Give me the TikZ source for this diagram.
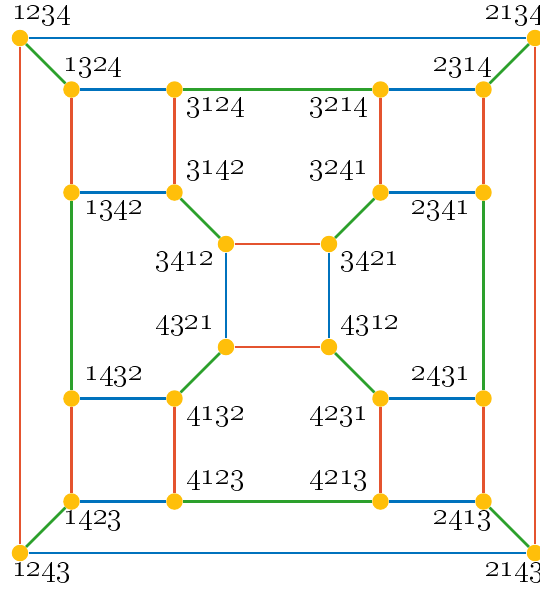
\documentclass[tikz,border=0pt]{standalone}
\usepackage{tikz}
\usetikzlibrary{calc}
\definecolor{edgeb}{HTML}{0072BD}
\definecolor{edger}{HTML}{E4532F}
\definecolor{edgeg}{HTML}{2CA02C}
\definecolor{dotc}{HTML}{FFBF0A}
\tikzset{
  perm/.style={circle, fill=dotc, inner sep=0pt, minimum size=0.32cm},
  lab/.style={font=\fontsize{16}{18}\selectfont, inner sep=0pt},
  eb/.style={edgeb, line width=1.5pt},
  er/.style={edger, line width=1.5pt},
  eg/.style={edgeg, line width=1.5pt}
}

\begin{document}
\begin{tikzpicture}
  \useasboundingbox (-0.388,0.738) rectangle (10.097,-10.718);
  % vertices
  \node[perm] (p1234) at (0,0) {};
  \node[perm] (p2134) at (10,0) {};
  \node[perm] (p1243) at (0,-10) {};
  \node[perm] (p2143) at (10,-10) {};
  \node[perm] (p1324) at (1,-1) {};
  \node[perm] (p3124) at (3,-1) {};
  \node[perm] (p3214) at (7,-1) {};
  \node[perm] (p2314) at (9,-1) {};
  \node[perm] (p1342) at (1,-3) {};
  \node[perm] (p3142) at (3,-3) {};
  \node[perm] (p3241) at (7,-3) {};
  \node[perm] (p2341) at (9,-3) {};
  \node[perm] (p3412) at (4,-4) {};
  \node[perm] (p3421) at (6,-4) {};
  \node[perm] (p4321) at (4,-6) {};
  \node[perm] (p4312) at (6,-6) {};
  \node[perm] (p1432) at (1,-7) {};
  \node[perm] (p4132) at (3,-7) {};
  \node[perm] (p4231) at (7,-7) {};
  \node[perm] (p2431) at (9,-7) {};
  \node[perm] (p1423) at (1,-9) {};
  \node[perm] (p4123) at (3,-9) {};
  \node[perm] (p4213) at (7,-9) {};
  \node[perm] (p2413) at (9,-9) {};
  % labels
  \node[lab] (t1234) at ($(p1234)+(0.42,0.44)$) {\oldstylenums{1234}};
  \node[lab] (t2134) at ($(p2134)+(-0.40,0.44)$) {\oldstylenums{2134}};
  \node[lab] (t1243) at ($(p1243)+(0.42,-0.38)$) {\oldstylenums{1243}};
  \node[lab] (t2143) at ($(p2143)+(-0.40,-0.38)$) {\oldstylenums{2143}};
  \node[lab] (t1324) at ($(p1324)+(0.42,0.42)$) {\oldstylenums{1324}};
  \node[lab] (t2314) at ($(p2314)+(-0.40,0.42)$) {\oldstylenums{2314}};
  \node[lab] (t1423) at ($(p1423)+(0.42,-0.37)$) {\oldstylenums{1423}};
  \node[lab] (t2413) at ($(p2413)+(-0.40,-0.37)$) {\oldstylenums{2413}};
  \node[lab] (t3124) at ($(p3124)+(0.80,-0.35)$) {\oldstylenums{3124}};
  \node[lab] (t3214) at ($(p3214)+(-0.80,-0.35)$) {\oldstylenums{3214}};
  \node[lab] (t3142) at ($(p3142)+(0.80,0.42)$) {\oldstylenums{3142}};
  \node[lab] (t3241) at ($(p3241)+(-0.80,0.42)$) {\oldstylenums{3241}};
  \node[lab] (t1342) at ($(p1342)+(0.82,-0.35)$) {\oldstylenums{1342}};
  \node[lab] (t2341) at ($(p2341)+(-0.82,-0.35)$) {\oldstylenums{2341}};
  \node[lab] (t3412) at ($(p3412)+(-0.80,-0.35)$) {\oldstylenums{3412}};
  \node[lab] (t3421) at ($(p3421)+(0.80,-0.35)$) {\oldstylenums{3421}};
  \node[lab] (t4321) at ($(p4321)+(-0.80,0.41)$) {\oldstylenums{4321}};
  \node[lab] (t4312) at ($(p4312)+(0.80,0.41)$) {\oldstylenums{4312}};
  \node[lab] (t1432) at ($(p1432)+(0.82,0.42)$) {\oldstylenums{1432}};
  \node[lab] (t2431) at ($(p2431)+(-0.82,0.42)$) {\oldstylenums{2431}};
  \node[lab] (t4132) at ($(p4132)+(0.80,-0.35)$) {\oldstylenums{4132}};
  \node[lab] (t4231) at ($(p4231)+(-0.80,-0.35)$) {\oldstylenums{4231}};
  \node[lab] (t4123) at ($(p4123)+(0.80,0.41)$) {\oldstylenums{4123}};
  \node[lab] (t4213) at ($(p4213)+(-0.80,0.41)$) {\oldstylenums{4213}};
  % blue edges
  \draw[eb] (p1234) -- (p2134);
  \draw[eb] (p1243) -- (p2143);
  \draw[eb] (p1324) -- (p3124);
  \draw[eb] (p3214) -- (p2314);
  \draw[eb] (p1342) -- (p3142);
  \draw[eb] (p3241) -- (p2341);
  \draw[eb] (p3412) -- (p4321);
  \draw[eb] (p3421) -- (p4312);
  \draw[eb] (p1432) -- (p4132);
  \draw[eb] (p4231) -- (p2431);
  \draw[eb] (p1423) -- (p4123);
  \draw[eb] (p4213) -- (p2413);
  % red edges
  \draw[er] (p1234) -- (p1243);
  \draw[er] (p2134) -- (p2143);
  \draw[er] (p1324) -- (p1342);
  \draw[er] (p3124) -- (p3142);
  \draw[er] (p3214) -- (p3241);
  \draw[er] (p2314) -- (p2341);
  \draw[er] (p3412) -- (p3421);
  \draw[er] (p4321) -- (p4312);
  \draw[er] (p1432) -- (p1423);
  \draw[er] (p4132) -- (p4123);
  \draw[er] (p4231) -- (p4213);
  \draw[er] (p2431) -- (p2413);
  % green edges
  \draw[eg] (p1234) -- (p1324);
  \draw[eg] (p2134) -- (p2314);
  \draw[eg] (p3124) -- (p3214);
  \draw[eg] (p1342) -- (p1432);
  \draw[eg] (p2341) -- (p2431);
  \draw[eg] (p3142) -- (p3412);
  \draw[eg] (p3241) -- (p3421);
  \draw[eg] (p4321) -- (p4132);
  \draw[eg] (p4312) -- (p4231);
  \draw[eg] (p4123) -- (p4213);
  \draw[eg] (p1423) -- (p1243);
  \draw[eg] (p2413) -- (p2143);
\end{tikzpicture}
\end{document}
